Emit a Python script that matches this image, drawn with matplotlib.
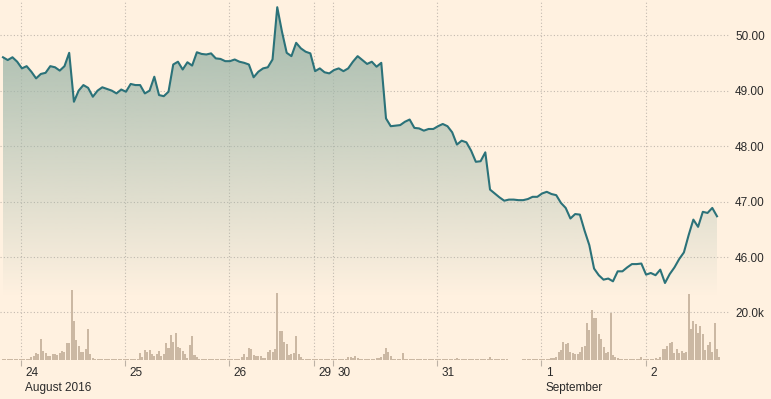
import matplotlib
matplotlib.use('Agg')
import matplotlib.pyplot as plt
import matplotlib.colors as mcolors
import numpy as np

plt.rcParams['font.family'] = ['Liberation Sans', 'DejaVu Sans']

# price, one reading every two bars (30-min bars, 23 Aug - 2 Sep 2016)
price = [
    49.60, 49.55, 49.60, 49.52, 49.40, 49.44, 49.34, 49.22, 49.30, 49.32,
    49.44, 49.42, 49.36, 49.44, 49.68, 48.80, 49.00, 49.10, 49.05, 48.89,
    49.00, 49.06, 49.03, 49.00, 48.95, 49.02, 48.98, 49.12, 49.10, 49.10,
    48.95, 49.00, 49.25, 48.92, 48.90, 48.98, 49.47, 49.52, 49.38, 49.51,
    49.45, 49.69, 49.66, 49.65, 49.67, 49.58, 49.57, 49.53, 49.53, 49.56,
    49.52, 49.50, 49.47, 49.24, 49.34, 49.40, 49.42, 49.56, 50.50, 50.06,
    49.68, 49.62, 49.86, 49.76, 49.70, 49.67, 49.35, 49.40, 49.33, 49.31,
    49.37, 49.40, 49.35, 49.40, 49.52, 49.62, 49.55, 49.48, 49.52, 49.43,
    49.50, 48.50, 48.36, 48.37, 48.38, 48.44, 48.48, 48.33, 48.32, 48.28,
    48.31, 48.31, 48.36, 48.40, 48.36, 48.25, 48.03, 48.10, 48.07, 47.92,
    47.72, 47.73, 47.89, 47.22, 47.15, 47.08, 47.02, 47.04, 47.04, 47.03,
    47.03, 47.05, 47.09, 47.09, 47.15, 47.18, 47.14, 47.12, 46.98, 46.89,
    46.70, 46.78, 46.77, 46.48, 46.22, 45.80, 45.68, 45.60, 45.62, 45.57,
    45.75, 45.75, 45.82, 45.88, 45.88, 45.89, 45.69, 45.72, 45.68, 45.78,
    45.54, 45.70, 45.82, 45.97, 46.09, 46.40, 46.68, 46.55, 46.82, 46.80,
    46.89, 46.74,
]

# volume per bar, in thousands
volume = [
    0.4, 0.4, 0.4, 0.4, 0.4, 0.4, 0.4, 0.4, 0.4, 0.5, 0.4, 0.4,
    1.1, 1.5, 2.8, 2.5, 8.8, 3.8, 2.8, 1.8, 1.8, 2.5, 2.5, 2.2, 2.8, 3.9,
    3.5, 7.0, 7.0, 29.2, 16.3, 8.3, 5.8, 3.5, 3.5, 4.5, 13.2, 2.4, 0.7,
    0.4, 0.4, 0.4, 0.4, 0.4, 0.4, 0.4, 0.4, 0.4, 0.4, 0.4, 0.4, 0.4, 0.4,
    0.5, 0.4, 0.4, 0.4, 0.4,
    2.8, 1.1, 4.2, 3.5, 4.2, 2.5, 1.7, 2.5, 3.8, 1.7, 2.5, 7.0, 4.9, 10.4,
    7.6, 11.5, 5.5, 4.9, 3.9, 2.5, 1.0, 6.3, 10.0, 2.1, 1.1,
    0.4, 0.4, 0.4, 0.4, 0.4, 0.4, 0.4, 0.4, 0.4, 0.4, 0.4, 0.4, 0.4, 0.4,
    0.4, 0.4, 0.5, 0.5,
    1.4, 2.4, 1.4, 4.9, 4.6, 2.1, 1.7, 1.7, 1.7, 1.0, 0.7, 3.2, 4.2, 3.5,
    4.6, 28.2, 12.1, 12.1, 7.6, 6.5, 2.0, 2.5, 3.0, 10.0, 2.5, 1.1,
    0.4, 0.4, 0.4, 0.4, 0.4, 0.4, 0.4, 0.4, 0.4, 0.4, 0.4, 0.4, 0.4, 0.4,
    0.4, 0.4, 0.4, 0.4,
    0.5, 1.1, 1.1, 1.0, 1.7, 1.0, 0.5, 0.5, 0.5, 0.5, 0.5, 0.5, 0.5,
    0.7, 0.7, 1.4, 2.5, 4.9, 3.5, 1.8, 0.5, 0.5, 0.5, 0.5, 2.8,
    0.4, 0.4, 0.4, 0.4, 0.4, 0.4, 0.4, 0.4, 0.4, 0.4, 0.4, 0.4, 0.4, 0.4,
    0.4, 0.4, 0.4, 0.4, 0.4, 0.4, 0.4, 0.4, 0.7, 0.4, 0.4, 0.4, 0.4, 0.4,
    0.4, 0.4, 0.4, 0.4, 0.4, 0.4, 0.4, 0.4, 1.1, 0.6, 0.4, 0.4, 0.4, 0.4,
    0.4, 0.4,
    0.0, 0.0, 0.0, 0.0, 0.0, 0.0,
    0.4, 0.4, 0.4, 0.4, 0.4, 0.4, 0.4, 0.4, 0.4, 0.4, 0.4,
    0.5, 0.7, 1.0, 1.4, 3.5, 4.2, 7.4, 6.7, 7.0, 3.2, 2.8, 2.5, 2.5, 3.5,
    5.5, 6.0, 15.7, 12.5, 20.8, 17.4, 17.4, 11.1, 9.0, 5.5, 2.8, 3.2, 19.5,
    2.1, 1.4, 1.0,
    0.4, 0.4, 0.4, 0.4, 0.4, 0.4, 0.4, 0.4, 0.4, 1.1, 0.4, 0.4, 0.4, 0.4,
    0.4, 0.7, 0.5, 1.1,
    4.6, 4.6, 6.0, 7.2, 7.7, 3.0, 4.6, 2.8, 3.6, 3.1, 3.5, 27.8, 13.2, 16.4,
    14.9, 11.4, 14.3, 11.1, 4.2, 6.3, 7.4, 3.5, 15.7, 4.5, 1.4,
]

# day boundaries (bar index) and their labels
day_ticks = [7.5, 51.5, 95.5, 131.5, 139.5, 183.5, 227.5, 272]
day_labels = ['24', '25', '26', '29', '30', '31', '1', '2']
month_labels = {0: 'August 2016', 6: 'September'}

price_ticks = [46, 47, 48, 49, 50]
vol_ticks = [20]

BG = '#fff1e0'
GRID = '#c4bab0'
TXT = '#2a2a2a'
LINE = '#2b7279'
FS = 8.5

p_lo, p_hi = 44.155, 50.63
x_lo, x_hi = -1.27, 307.5

fig = plt.figure(figsize=(7.71, 3.99), dpi=100, facecolor=BG)
ax = fig.add_axes([0, 39 / 399, 730 / 771, 360 / 399])
ax.set_facecolor(BG)
ax2 = ax.twinx()

price_x = np.arange(len(price)) * 2
vol_x = np.arange(len(volume))

# gradient area under the price line
poly = ax.fill_between(price_x, price, p_lo, facecolor='none', edgecolor='none')
levels = np.linspace(p_lo, p_hi, 300)
alpha = np.clip((levels - 45.3) / (50.0 - 45.3), 0, 1) * 0.85
rgba = np.zeros((300, 1, 4))
rgba[..., :3] = mcolors.to_rgb('#9db6a9')
rgba[..., 3] = alpha[:, None]
im = ax.imshow(rgba, extent=[price_x[0], price_x[-1], p_lo, p_hi],
               origin='lower', aspect='auto', zorder=1, interpolation='bilinear')
im.set_clip_path(poly.get_paths()[0], transform=ax.transData)

ax.plot(price_x, price, color=LINE, lw=1.5, zorder=3, solid_joinstyle='round')

ax.set_xlim(x_lo, x_hi)
ax.set_ylim(p_lo, p_hi)
ax.set_axisbelow(True)

ax.set_yticks(price_ticks, labels=['%.2f' % v for v in price_ticks])
ax.yaxis.tick_right()
ax.set_xticks(day_ticks, labels=[''] * len(day_ticks))
ax.tick_params(axis='y', which='both', left=False, labelleft=False,
               right=False, labelright=True,
               length=0, pad=3.6, labelsize=FS, labelcolor=TXT)
ax.tick_params(axis='x', length=4.5, width=0.8, color='#bdb2a6', direction='out')
ax.grid(True, color=GRID, ls=(0, (1, 2)), lw=0.8)
for s in ax.spines.values():
    s.set_visible(False)

for i, (pos, lbl) in enumerate(zip(day_ticks, day_labels)):
    ax.annotate(lbl, xy=(pos, 0), xycoords=('data', 'axes fraction'),
                xytext=(3.4, -11.6), textcoords='offset points',
                ha='left', va='baseline', fontsize=FS, color=TXT)
    if i in month_labels:
        ax.annotate(month_labels[i], xy=(pos, 0), xycoords=('data', 'axes fraction'),
                    xytext=(3.4, -22.5), textcoords='offset points',
                    ha='left', va='baseline', fontsize=FS, color=TXT)

# volume on its own scale
ax2.bar(vol_x, volume, width=0.85, color='#cbb8a3', zorder=2, linewidth=0)
ax2.set_ylim(0, 150.9)
ax2.set_yticks(vol_ticks, labels=['%.1fk' % v for v in vol_ticks])
ax2.tick_params(axis='y', length=0, pad=3.6, labelsize=FS, labelcolor=TXT)
ax2.grid(axis='y', color=GRID, ls=(0, (1, 2)), lw=0.8)
ax2.set_axisbelow(True)
for s in ax2.spines.values():
    s.set_visible(False)
ax2.set_xlim(x_lo, x_hi)

fig.savefig('out.png', dpi=100, facecolor=BG)
